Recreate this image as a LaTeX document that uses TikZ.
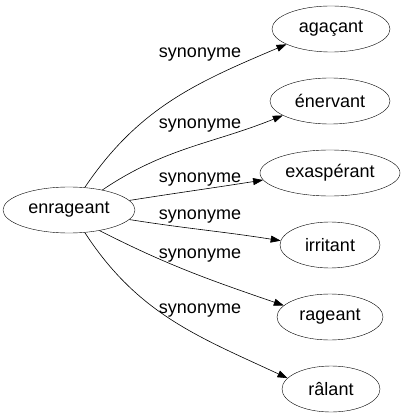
\documentclass[tikz,border=0pt]{standalone}
\usepackage{fontspec}
\setmainfont{Liberation Sans}
\usetikzlibrary{shapes.geometric, arrows.meta}

\tikzset{
  word/.style={draw, ellipse, inner sep=0pt, minimum height=46pt, font=\fontsize{18}{20}\selectfont},
  syn/.style={-{Triangle[length=10pt,width=7pt]}, line width=0.6pt},
  lbl/.style={font=\fontsize{18}{20}\selectfont, inner sep=0pt}
}

\begin{document}
\begin{tikzpicture}[x=1pt, y=-1pt]
        \useasboundingbox (0,0) rectangle (406,419);
        \node[word, minimum width=132pt] (enr) at (69,210) {enrageant};
        \node[word, minimum width=118pt] (aga) at (331,29) {agaçant};
        \node[word, minimum width=120pt] (ene) at (330,101) {énervant};
        \node[word, minimum width=140pt] (exa) at (330,173) {exaspérant};
        \node[word, minimum width=100pt] (irr) at (330,245) {irritant};
        \node[word, minimum width=106pt] (rag) at (330,317) {rageant};
        \node[word, minimum width=98pt] (ral) at (331,389) {râlant};
        % synonym edges: start anchor / out / end anchor / in / label height
        \foreach \t/\a/\o/\b/\i/\ly in {aga/55/56/199/203/55, ene/31/34/197/202/126,
                                        exa/9/9/186/189/180, irr/-9/-9/175/171/217,
                                        rag/-34/-27/166/161/256, ral/-55/-57/166/155/311} {
            \draw[syn] (enr.\a) to[out=\o, in=\i] (\t.\b);
            \node[lbl] (l\t) at (200,\ly) {synonyme};
        }
    \end{tikzpicture}
\end{document}
